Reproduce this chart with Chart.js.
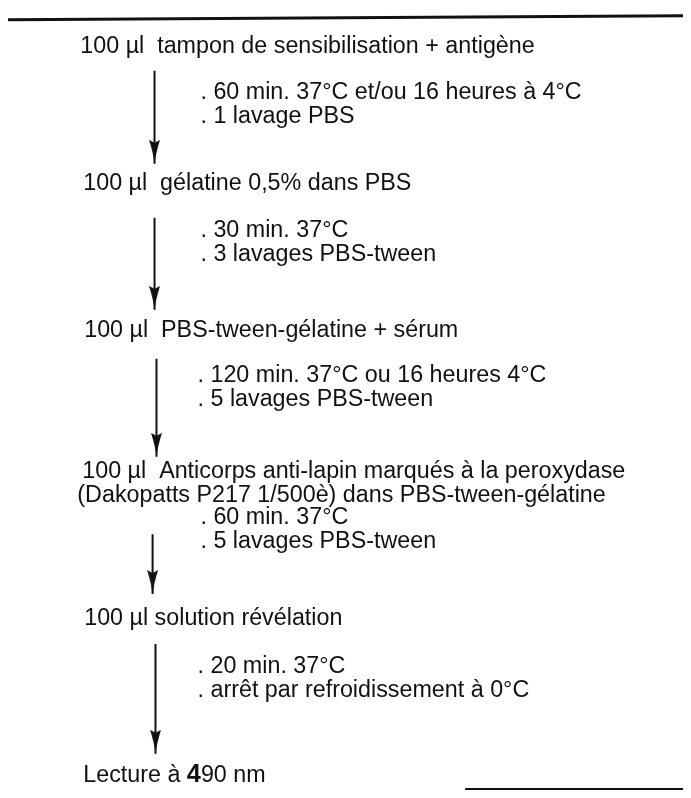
<!DOCTYPE html>
<html>
<head>
<meta charset="utf-8">
<script src="https://cdn.jsdelivr.net/npm/chart.js@4/dist/chart.umd.min.js"></script>
<style>
html,body{margin:0;padding:0;background:#fff;}
canvas{display:block;}
</style>
</head>
<body>
<canvas id="c" width="691" height="798"></canvas>
<script>
// ---- content (text of the protocol) ----
const stepLines = [
  ["100 µl  tampon de sensibilisation + antigène"],
  ["100 µl  gélatine 0,5% dans PBS"],
  ["100 µl  PBS-tween-gélatine + sérum"],
  ["100 µl  Anticorps anti-lapin marqués à la peroxydase", "(Dakopatts P217 1/500è) dans PBS-tween-gélatine"],
  ["100 µl solution révélation"],
  ["Lecture à **4**90 nm"]
];
const noteLines = [
  [". 60 min. 37°C et/ou 16 heures à 4°C", ". 1 lavage PBS"],
  [". 30 min. 37°C", ". 3 lavages PBS-tween"],
  [". 120 min. 37°C ou 16 heures 4°C", ". 5 lavages PBS-tween"],
  [". 60 min. 37°C", ". 5 lavages PBS-tween"],
  [". 20 min. 37°C", ". arrêt par refroidissement à 0°C"]
];

// ---- layout values on the diagram axes (depth = vertical axis) ----
const stepDepth  = [46, 186, 336, 480, 630, 790];
const stepColumn = [[74], [77], [78], [76, 71], [78], [77]];
const noteDepth  = [93, 234, 382, 527, 679];
const noteColumn = [197, 197, 194, 197, 194];
const arrowColumn = [150, 150, 152, 148, 151];
const arrowTop   = [64, 214, 358, 537, 649];
const arrowTip   = [162, 311, 461, 601, 764];
const lineGap = 24.5;

// arrowhead image (tip at the centre of the canvas)
const headW = 11, headH = 24;
const head = document.createElement('canvas');
head.width = headW; head.height = headH * 2;
{
  const g = head.getContext('2d');
  g.fillStyle = '#111';
  g.beginPath();
  g.moveTo(0, 0);
  g.lineTo(headW / 2, 3);
  g.lineTo(headW, 0);
  g.quadraticCurveTo(headW * 0.62, headH * 0.55, headW / 2, headH);
  g.quadraticCurveTo(headW * 0.38, headH * 0.55, 0, 0);
  g.closePath();
  g.fill();
}

const datasets = arrowColumn.map((col, i) => ({
  data: [{x: col, y: arrowTop[i]}, {x: col, y: arrowTip[i] - 3}],
  showLine: true,
  borderColor: '#111',
  borderWidth: 2,
  pointRadius: [0, 6],
  pointStyle: (c) => c.dataIndex === 1 ? head : 'circle',
  clip: false
}));

const FONT = '"Liberation Sans", Arial, Helvetica, sans-serif';
const FS = 23.3;

function drawRich(ctx, text, px, py) {
  const parts = text.split('**');
  let cx = px;
  parts.forEach((p, k) => {
    ctx.font = (k % 2 ? 'bold ' + (FS + 2) : FS) + 'px ' + FONT;
    ctx.fillText(p, cx, py);
    cx += ctx.measureText(p).width;
  });
}

const textPlugin = {
  id: 'flowText',
  beforeDraw(chart) {
    const {ctx, scales: {x, y}} = chart;
    ctx.save();
    ctx.fillStyle = '#fff';
    ctx.fillRect(0, 0, chart.width, chart.height);
    // frame of the figure
    ctx.strokeStyle = '#111';
    ctx.lineWidth = 3;
    ctx.beginPath();
    ctx.moveTo(x.getPixelForValue(0), y.getPixelForValue(12));
    ctx.lineTo(x.getPixelForValue(691), y.getPixelForValue(8));
    ctx.stroke();
    ctx.lineWidth = 2;
    ctx.beginPath();
    ctx.moveTo(x.getPixelForValue(468), y.getPixelForValue(797));
    ctx.lineTo(x.getPixelForValue(691), y.getPixelForValue(797));
    ctx.stroke();
    ctx.restore();
  },
  afterDatasetsDraw(chart) {
    const {ctx, scales: {x, y}} = chart;
    ctx.save();
    ctx.fillStyle = '#111';
    ctx.textBaseline = 'alphabetic';
    ctx.textAlign = 'left';
    stepLines.forEach((lines, i) => {
      lines.forEach((t, j) => {
        drawRich(ctx, t, x.getPixelForValue(stepColumn[i][j]), y.getPixelForValue(stepDepth[i] + j * lineGap));
      });
    });
    noteLines.forEach((lines, i) => {
      lines.forEach((t, j) => {
        drawRich(ctx, t, x.getPixelForValue(noteColumn[i]), y.getPixelForValue(noteDepth[i] + j * lineGap));
      });
    });
    ctx.restore();
  }
};

new Chart(document.getElementById('c'), {
  type: 'scatter',
  data: {datasets},
  options: {
    responsive: false,
    animation: false,
    devicePixelRatio: 1,
    events: [],
    layout: {padding: 0},
    scales: {
      x: {type: 'linear', min: 0, max: 691, display: false},
      y: {type: 'linear', min: 0, max: 798, reverse: true, display: false}
    },
    plugins: {legend: {display: false}, tooltip: {enabled: false}}
  },
  plugins: [textPlugin]
});
</script>
</body>
</html>
